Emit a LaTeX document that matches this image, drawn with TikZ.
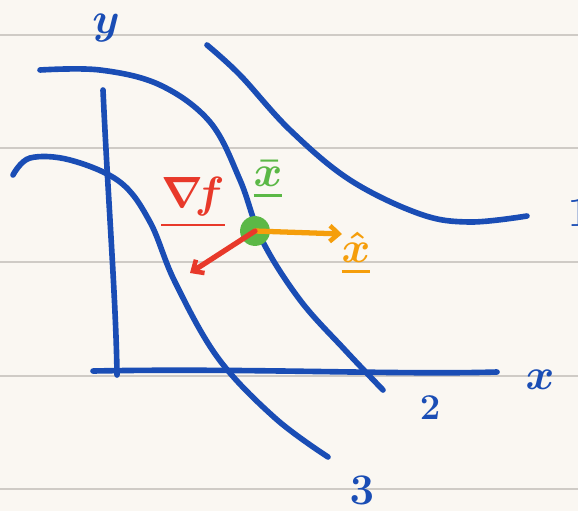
\documentclass[tikz,border=0pt]{standalone}
\usepackage{amsmath,amssymb}
\usetikzlibrary{arrows.meta}

\definecolor{paper}{HTML}{FAF7F2}
\definecolor{rule}{HTML}{CFCBC6}
\definecolor{ink}{HTML}{1A4DB5}
\definecolor{gradred}{HTML}{E8392A}
\definecolor{dotgreen}{HTML}{5BB846}
\definecolor{dirorange}{HTML}{F59E0B}

\begin{document}
\begin{tikzpicture}[
  x=0.02cm, y=-0.02cm,
  pen/.style={ink, line width=3.2pt, line cap=round, line join=round},
  lab/.style={font=\fontsize{36}{36}\selectfont\boldmath, inner sep=0pt},
  vec/.style={line width=3pt, line cap=round,
              -{Straight Barb[length=5pt, width=9pt, line width=2.6pt]}}
]

% ---------------- paper ----------------
\fill[paper] (0,0) rectangle (578,511);
\useasboundingbox (0,0) rectangle (578,511);
\foreach \yy in {35,148,262,376,489}
  \draw[rule, line width=0.8pt] (0,\yy) -- (578,\yy);

% ---------------- axes ----------------
\draw[pen] (103,90) .. controls (108,200) and (116,300) .. (117,375);
\draw[pen] (93,371) .. controls (250,368) and (400,375) .. (497,372);
\node[lab, ink] (ylab) at (106,28) {$y$};
\node[lab, ink] (xlab) at (540,380) {$x$};

% ---------------- level curves ----------------
\draw[pen] plot[smooth, tension=0.6] coordinates
  {(207,45) (240,75) (290,130) (350,180) (420,214) (470,222) (527,216)};
\draw[pen] plot[smooth, tension=0.6] coordinates
  {(40,70) (100,70) (160,85) (210,122) (240,180) (262,240) (300,300)
   (345,350) (383,390)};
\draw[pen] plot[smooth, tension=0.6] coordinates
  {(13,175) (30,158) (70,160) (120,182) (150,222) (175,282) (218,358)
   (275,418) (328,457)};
\node[lab, ink] (one) at (580,212) {$1$};
\node[lab, ink, font=\fontsize{22}{22}\selectfont\boldmath] (two) at (430,408) {$2$};
\node[lab, ink] (three) at (362,490) {$3$};

% ---------------- point and directions ----------------
\node[circle, fill=dotgreen, minimum size=17pt, inner sep=0pt] (xbar) at (255,231) {};
\coordinate (gradend) at (190,273);
\coordinate (dirend) at (342,234);
\draw[vec, dirorange] (xbar.center) -- (dirend);
\draw[vec, gradred] (xbar.center) -- (gradend);
\node[lab, gradred] (gradlab) at (193,203) {$\underline{\nabla\! f}$};
\node[lab, dotgreen] (xbarlab) at (268,180) {$\underline{\bar{x}}$};
\node[lab, dirorange] (xhatlab) at (356,254) {$\underline{\hat{x}}$};

\end{tikzpicture}
\end{document}
